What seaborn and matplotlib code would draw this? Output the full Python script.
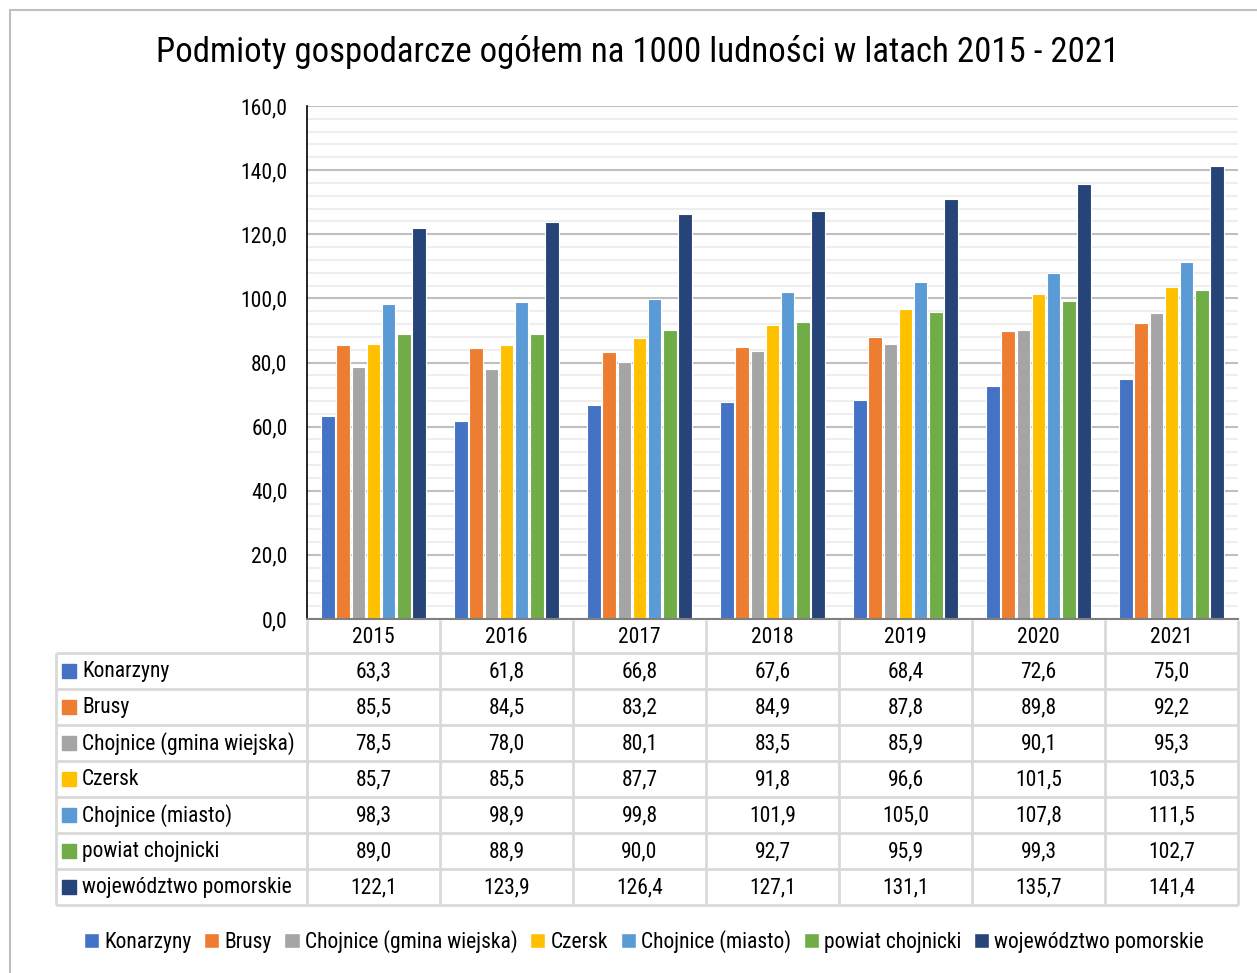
"""Podmioty gospodarcze na 1000 ludnosci - wykres slupkowy z tabela danych."""
import matplotlib

matplotlib.use("Agg")
import matplotlib.pyplot as plt
import pandas as pd
import seaborn as sns
from matplotlib.patches import Patch, Rectangle
from matplotlib.ticker import FuncFormatter, MultipleLocator

years = ["2015", "2016", "2017", "2018", "2019", "2020", "2021"]
units = [
    "Konarzyny",
    "Brusy",
    "Chojnice (gmina wiejska)",
    "Czersk",
    "Chojnice (miasto)",
    "powiat chojnicki",
    "województwo pomorskie",
]
konarzyny = [63.3, 61.8, 66.8, 67.6, 68.4, 72.6, 75.0]
brusy = [85.5, 84.5, 83.2, 84.9, 87.8, 89.8, 92.2]
chojnice_gw = [78.5, 78.0, 80.1, 83.5, 85.9, 90.1, 95.3]
czersk = [85.7, 85.5, 87.7, 91.8, 96.6, 101.5, 103.5]
chojnice_m = [98.3, 98.9, 99.8, 101.9, 105.0, 107.8, 111.5]
powiat = [89.0, 88.9, 90.0, 92.7, 95.9, 99.3, 102.7]
wojewodztwo = [122.1, 123.9, 126.4, 127.1, 131.1, 135.7, 141.4]
colors = ["#4472C4", "#ED7D31", "#A5A5A5", "#FFC000", "#5B9BD5", "#70AD47", "#264478"]

series = [konarzyny, brusy, chojnice_gw, czersk, chojnice_m, powiat, wojewodztwo]
frame = pd.DataFrame(
    [(u, y, v) for u, vals in zip(units, series) for y, v in zip(years, vals)],
    columns=["jednostka", "rok", "wartosc"],
)

sns.set_style("white")
plt.rcParams["font.family"] = [
    "Liberation Sans Narrow", "Arial Narrow", "Roboto Condensed", "Archivo Narrow",
    "PT Sans Narrow", "IBM Plex Sans Condensed", "Liberation Sans", "DejaVu Sans",
]
plt.rcParams["text.color"] = "black"
plt.rcParams["ytick.color"] = "black"

W, H = 1257, 973
fig = plt.figure(figsize=(W / 100, H / 100), dpi=100)


def px(x0, y0, x1, y1):
    # pixel box (top-left origin) -> figure fraction rect
    return [x0 / W, 1 - y1 / H, (x1 - x0) / W, (y1 - y0) / H]


fig.patches.append(
    Rectangle((10 / W, -0.1), 1.2, 1 - 10 / H + 0.1, transform=fig.transFigure,
              fill=False, edgecolor="#bfbfbf", linewidth=1.5)
)

ax = fig.add_axes(px(307, 106, 1238, 619))
sns.barplot(
    data=frame, x="rok", y="wartosc", hue="jednostka", hue_order=units, order=years,
    palette=colors, width=0.8, gap=0.12, edgecolor="white", linewidth=0.8,
    saturation=1, legend=False, ax=ax,
)
ax.set_xlim(-0.5, 6.5)
ax.set_ylim(0, 160)
ax.yaxis.set_major_locator(MultipleLocator(20))
ax.yaxis.set_minor_locator(MultipleLocator(4))
ax.yaxis.set_major_formatter(FuncFormatter(lambda v, _: f"{v:.1f}".replace(".", ",")))
ax.grid(axis="y", which="major", color="#bfbfbf", linewidth=1.5)
ax.grid(axis="y", which="minor", color="#eeeeee", linewidth=1.5)
ax.set_axisbelow(True)
ax.set_xticks([])
ax.set_xlabel("")
ax.set_ylabel("")
ax.tick_params(axis="y", which="both", length=0, pad=14, labelsize=15.5)
for side in ["top", "right"]:
    ax.spines[side].set_visible(False)
ax.spines["left"].set_color("black")
ax.spines["left"].set_linewidth(1.2)
ax.spines["bottom"].set_color("#7f7f7f")
ax.spines["bottom"].set_linewidth(1.5)

fig.text(638 / W, 1 - 52 / H, "Podmioty gospodarcze ogółem na 1000 ludności w latach 2015 - 2021",
         ha="center", va="center", fontsize=25)

# tabela danych
col_w = (1238 - 307) / len(years)
label_w = (307 - 56) / col_w
head_h = 33 / 36
tab = fig.add_axes(px(56, 620, 1238, 905))
tab.set_xlim(-0.5 - label_w, len(years) - 0.5)
tab.set_ylim(len(units), -head_h)
tab.axis("off")
grid_kw = dict(color="#d9d9d9", linewidth=2, clip_on=False)
for r in range(len(units) + 1):
    tab.hlines(r, -0.5 - label_w, len(years) - 0.5, **grid_kw)
for c in range(len(years) + 1):
    tab.vlines(c - 0.5, -head_h, len(units), **grid_kw)
tab.vlines(-0.5 - label_w, 0, len(units), **grid_kw)
for c, yr in enumerate(years):
    tab.text(c, -head_h / 2 + 0.04, yr, ha="center", va="center", fontsize=15.5)
for r, (name, vals, col) in enumerate(zip(units, series, colors)):
    tab.plot(-0.5 - label_w + 0.1, r + 0.5, marker="s", markersize=9.5, color=col, clip_on=False)
    tab.text(-0.5 - label_w + 0.195, r + 0.52, name, ha="left", va="center", fontsize=15.5)
    for c, v in enumerate(vals):
        tab.text(c, r + 0.52, f"{v:.1f}".replace(".", ","), ha="center", va="center", fontsize=15.5)

handles = [Patch(facecolor=c, label=u) for u, c in zip(units, colors)]
fig.legend(handles=handles, loc="center", bbox_to_anchor=(644 / W, 1 - 942 / H), ncol=7,
           frameon=False, fontsize=15.5, handlelength=0.7, handleheight=0.7,
           handletextpad=0.25, columnspacing=0.58)

fig.savefig("out.png", dpi=100)
